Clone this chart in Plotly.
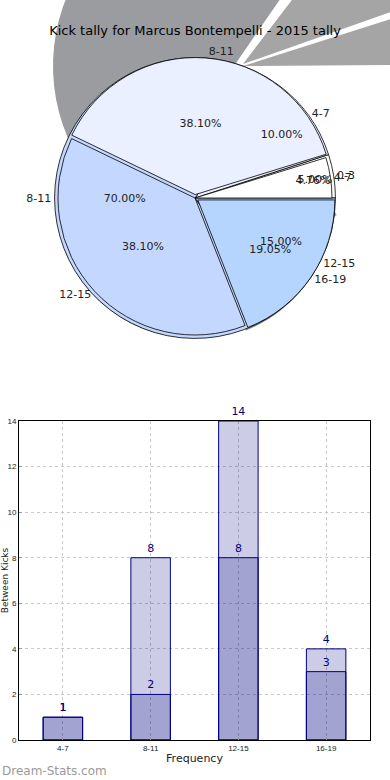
import numpy as np
import plotly.graph_objects as go

# ---------------- data ----------------
title_text = "Kick tally for Marcus Bontempelli - 2015 tally"
categories = ["4-7", "8-11", "12-15", "16-19"]
labels_b = ["0-3", "4-7", "8-11", "12-15"]   # second pie (labels as printed)
tally_a = [1, 8, 8, 4]      # pie A  (4.76 / 38.10 / 38.10 / 19.05 %)
tally_b = [1, 2, 14, 3]     # pie B  (5 / 10 / 70 / 15 %)
slice_colors = ["#FFFFFF", "#EAF0FF", "#C4D8FF", "#B5D5FF"]
y_ticks = [0, 2, 4, 6, 8, 10, 12, 14]

W, H = 390, 780

def px_x(x):
    return x / W

def px_y(y):
    return 1 - y / H

fig = go.Figure()

# ---------- gray shadow wedges of pie B (decorative, top of image) ----------
cx_s, cy_s, r_s = 238, 66, 181
fr = np.array(tally_b, dtype=float) / sum(tally_b)
edges = np.concatenate([[0], np.cumsum(fr)]) * 360
shadow_cols = ["#A5A5A5", "#A5A5A5", "#9A9CA0", "#FFFFFF"]
offsets = [(5, 0), (5, -2), (-4, 0), (0, 0)]
gaps = [0.4, 1.4, 1.4, 0]
for i in range(3):
    a0, a1 = edges[i] + gaps[i], edges[i + 1] - gaps[i]
    ox, oy = offsets[i]
    th = np.radians(np.linspace(a0, a1, 60))
    xs = cx_s + ox + r_s * np.cos(th)
    ys = cy_s + oy - r_s * np.sin(th)
    pts = [(cx_s + ox, cy_s + oy)] + list(zip(xs, ys))
    path = "M " + " L ".join(f"{px_x(x):.5f},{px_y(y):.5f}" for x, y in pts) + " Z"
    fig.add_shape(type="path", path=path, xref="paper", yref="paper",
                  fillcolor=shadow_cols[i], line=dict(width=0), layer="below")

# ---------------- pies ----------------
cx, cy, R = 195, 198, 137
pull_a = [0.0, 0.025, 0.0, 0.025]
maxpull = max(pull_a)
half = R * (1 + maxpull)

def dom(dx=0, dy=0):
    return dict(x=[px_x(cx - half + dx), px_x(cx + half + dx)],
                y=[px_y(cy + half + dy), px_y(cy - half + dy)])

def rot(vals):
    # counterclockwise pies in plotly end their first slice at `rotation`;
    # this makes the first slice start at 3 o'clock
    return 90 - 360.0 * vals[0] / sum(vals)

common = dict(sort=False, direction="counterclockwise",
              showlegend=False, hoverinfo="skip")

# drop shadow of main pie
fig.add_trace(go.Pie(values=tally_a, labels=categories, domain=dom(-2, 3), rotation=rot(tally_a),
                     marker=dict(colors=["#8A8A8A"] * 4, line=dict(width=0)),
                     pull=pull_a, textinfo="none", **common))
# pie B (mostly hidden)
fig.add_trace(go.Pie(values=tally_b, labels=labels_b, domain=dom(), rotation=rot(tally_b),
                     marker=dict(colors=slice_colors, line=dict(color="black", width=0.8)),
                     pull=[0, 0, 0, 0], textinfo="none", **common))
# pie A (on top)
fig.add_trace(go.Pie(values=tally_a, labels=categories, domain=dom(), rotation=rot(tally_a),
                     marker=dict(colors=slice_colors, line=dict(color="black", width=0.8)),
                     pull=pull_a, textinfo="none", **common))

clear = ["rgba(0,0,0,0)"] * 4
txtfont = dict(family="DejaVu Sans", size=11, color="#222222")
for vals, labs, pl in [(tally_a, categories, pull_a), (tally_b, labels_b, [0, 0, 0, 0])]:
    fig.add_trace(go.Pie(values=vals, labels=labs, domain=dom(), pull=pl, rotation=rot(vals),
                         marker=dict(colors=clear, line=dict(width=0)),
                         texttemplate="%{label}", textposition="outside",
                         outsidetextfont=txtfont, **common))
    fig.add_trace(go.Pie(values=vals, labels=labs, domain=dom(), pull=pl, rotation=rot(vals),
                         marker=dict(colors=clear, line=dict(width=0)),
                         texttemplate="%{percent:.2%}", textposition="inside",
                         insidetextorientation="horizontal",
                         insidetextfont=txtfont, **common))

# ---------------- bars ----------------
bar_style = dict(marker=dict(color="rgba(0,0,128,0.2)", line=dict(color="#000080", width=1)),
                 width=0.45, textposition="outside", cliponaxis=False,
                 textfont=dict(family="DejaVu Sans", size=11, color="#000080"),
                 showlegend=False, hoverinfo="skip")
fig.add_trace(go.Bar(x=categories, y=tally_a, text=tally_a, **bar_style))
fig.add_trace(go.Bar(x=categories, y=tally_b, text=tally_b, **bar_style))

fig.update_layout(
    width=W, height=H, margin=dict(l=0, r=0, t=0, b=0, autoexpand=False),
    paper_bgcolor="white", plot_bgcolor="white",
    barmode="overlay",
    uniformtext=dict(minsize=11, mode="show"),
    title=dict(text=title_text, x=0.5, xanchor="center", y=px_y(30), yanchor="middle",
               font=dict(family="DejaVu Sans", size=13, color="black")),
    xaxis=dict(domain=[px_x(19), px_x(370)], range=[-0.5, 3.5], automargin=False,
               showline=True, mirror=True, linecolor="black", linewidth=1,
               showgrid=True, gridcolor="#C8C8C8", griddash="dot",
               ticks="inside", ticklen=3, tickcolor="#999999",
               tickfont=dict(family="Liberation Sans", size=8, color="#222222"),
               title=dict(text="Frequency", standoff=2,
                          font=dict(family="DejaVu Sans", size=11, color="#222222")),
               anchor="y", zeroline=False),
    yaxis=dict(domain=[px_y(740), px_y(421)], range=[0, 14], tickvals=y_ticks, automargin=False,
               showline=True, mirror=True, linecolor="black", linewidth=1,
               showgrid=True, gridcolor="#C8C8C8", griddash="dot",
               ticks="inside", ticklen=3, tickcolor="#999999",
               tickfont=dict(family="Liberation Sans", size=8, color="#222222"),
               title=dict(text="Between Kicks", standoff=0,
                          font=dict(family="DejaVu Sans", size=9, color="#222222")),
               anchor="x", zeroline=False),
    annotations=[dict(text="Dream-Stats.com", x=px_x(0), y=px_y(771), xref="paper", yref="paper",
                      xanchor="left", yanchor="middle", showarrow=False,
                      font=dict(family="DejaVu Sans", size=12, color="#9A9A9A"))],
)

fig.write_html("out.html", config={"displayModeBar": False},
               post_script="document.body.style.margin='0';document.body.style.padding='0';")
